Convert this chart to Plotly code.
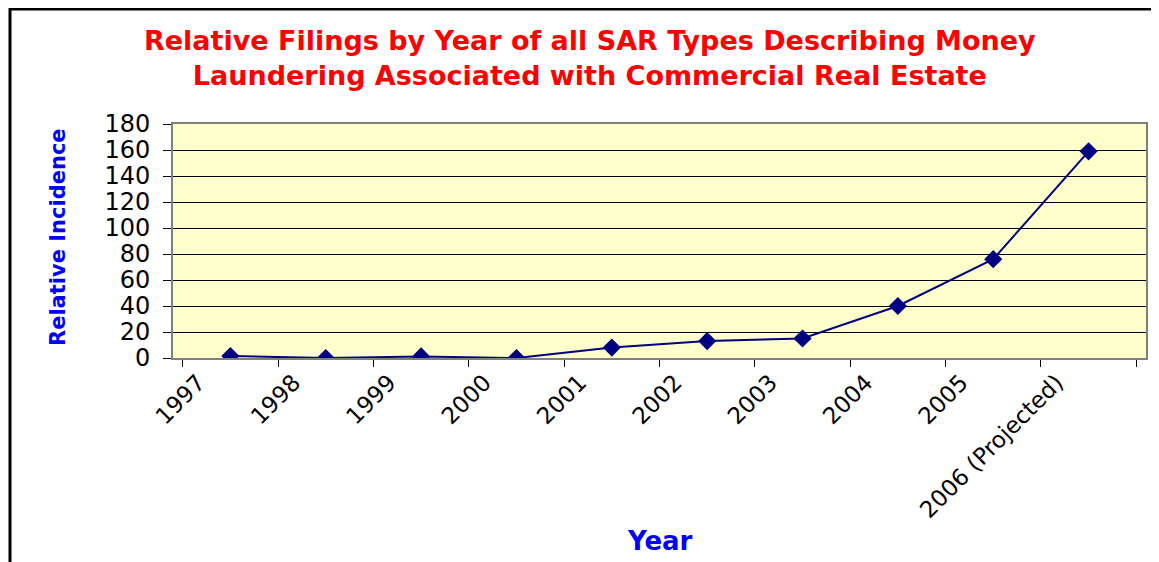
import plotly.graph_objects as go

years = ["1997", "1998", "1999", "2000", "2001", "2002", "2003", "2004", "2005", "2006 (Projected)"]
incidence = [1.5, 0, 1.2, 0, 8, 13, 15, 40, 76, 159]
y_ticks = [0, 20, 40, 60, 80, 100, 120, 140, 160, 180]

title_text = "<b>Relative Filings by Year of all SAR Types Describing Money<br>Laundering Associated with Commercial Real Estate</b>"

# page body has an 8px margin, so the figure is sized/offset to compensate
W, H = 1151, 554
L, R, T, B = 165, 13, 116, 204
PW, PH = W - L - R, H - T - B


def px(x_page):
    return (x_page - 8 - L) / PW


def py(y_page):
    return (H - B - (y_page - 8)) / PH


fig = go.Figure()
fig.add_trace(go.Scatter(
    x=years, y=incidence, mode="lines+markers",
    line=dict(color="#000080", width=2),
    marker=dict(symbol="diamond", size=14, color="#000080"),
    showlegend=False,
))

fig.update_layout(
    width=W, height=H,
    margin=dict(l=L, r=R, t=T, b=B),
    paper_bgcolor="white",
    plot_bgcolor="#FFFFCC",
    xaxis=dict(
        type="category", tickson="boundaries", ticks="outside", ticklen=7,
        tickcolor="#000000", tickangle=-45, ticklabelshift=-32,
        tickfont=dict(family="DejaVu Sans", size=23, color="black"),
        showgrid=False, showline=True, linecolor="#808080", linewidth=2,
        mirror=True, zeroline=False,
    ),
    yaxis=dict(
        range=[0, 180], tickvals=y_ticks, ticks="outside", ticklen=8,
        tickcolor="#000000", ticklabelstandoff=8,
        tickfont=dict(family="DejaVu Sans", size=24, color="black"),
        showgrid=True, gridcolor="#000000", gridwidth=1,
        showline=True, linecolor="#808080", linewidth=2, mirror=True,
        zeroline=False,
    ),
    annotations=[
        dict(text=title_text, x=px(590), y=py(58), xref="paper", yref="paper",
             showarrow=False, xanchor="center", yanchor="middle",
             font=dict(family="DejaVu Sans", size=27, color="#FF0000")),
        dict(text="<b>Relative Incidence</b>", x=px(58), y=py(237), xref="paper", yref="paper",
             textangle=-90, showarrow=False, xanchor="center", yanchor="middle",
             font=dict(family="DejaVu Sans", size=21, color="#0000FF")),
        dict(text="<b>Year</b>", x=px(660), y=py(541), xref="paper", yref="paper",
             showarrow=False, xanchor="center", yanchor="middle",
             font=dict(family="DejaVu Sans", size=26, color="#0000FF")),
    ],
    shapes=[
        dict(type="rect", xref="paper", yref="paper",
             x0=px(10), x1=px(1175),
             y0=py(590), y1=py(9),
             line=dict(color="black", width=3), layer="above"),
    ],
)

fig.write_html("out.html")
